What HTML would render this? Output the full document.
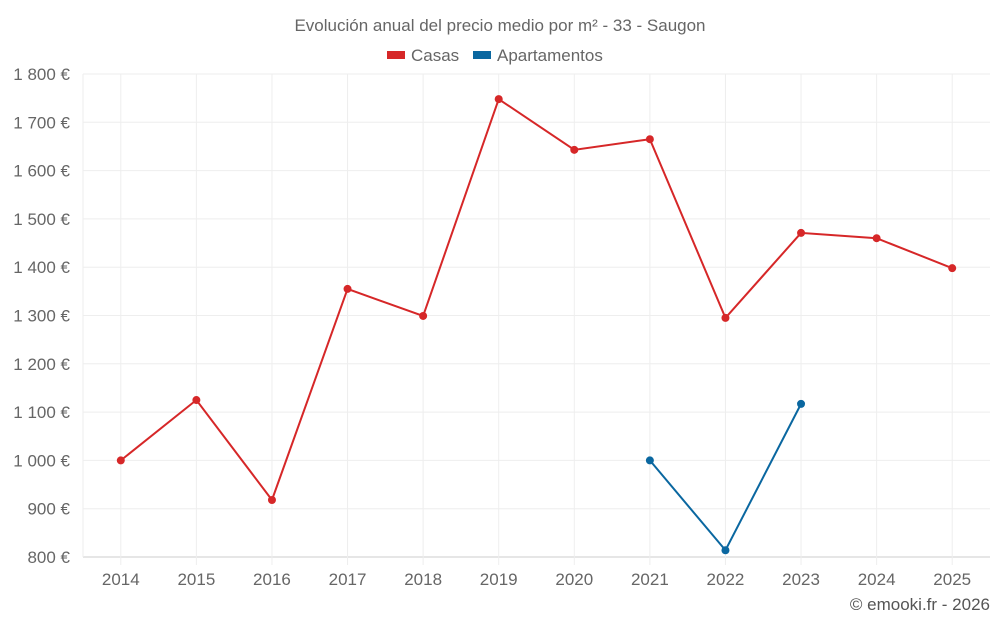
<!DOCTYPE html>
<html><head><meta charset="utf-8"><style>
body{margin:0;background:#fff;font-family:"Liberation Sans",sans-serif;}
svg text{font-family:"Liberation Sans",sans-serif;}
</style></head><body>
<svg id="chart" width="1000" height="625" xmlns="http://www.w3.org/2000/svg">
<text x="500" y="31" text-anchor="middle" font-size="17" fill="#666">Evolución anual del precio medio por m² - 33 - Saugon</text>
<g><rect x="387" y="51" width="18" height="8" fill="#d62728"/><text x="411" y="61" font-size="17" fill="#666">Casas</text></g>
<g><rect x="473" y="51" width="18" height="8" fill="#0a67a0"/><text x="497" y="61" font-size="17" fill="#666">Apartamentos</text></g>
<g id="grid"></g><g id="axes"></g><g id="series"></g>
<text x="990" y="610" text-anchor="end" font-size="17" fill="#555">© emooki.fr - 2026</text>
</svg>
<script>
const years=[2014,2015,2016,2017,2018,2019,2020,2021,2022,2023,2024,2025];
const casas=[1000,1125,918,1355,1299,1748,1643,1665,1295,1471,1460,1398];
const apartamentos=[null,null,null,null,null,null,null,1000,814,1117,null,null];
const yTicks=[800,900,1000,1100,1200,1300,1400,1500,1600,1700,1800];
const L=83,R=990,T=74,B=557,yMin=800,yMax=1800;
const bw=(R-L)/years.length;
const x=i=>L+bw*(i+0.5);
const y=v=>B-(v-yMin)/(yMax-yMin)*(B-T);
const NS="http://www.w3.org/2000/svg";
function mk(tag,parent,attrs){const e=document.createElementNS(NS,tag);for(const k in attrs)e.setAttribute(k,attrs[k]);parent.appendChild(e);return e;}
const grid=document.getElementById('grid'),axes=document.getElementById('axes'),ser=document.getElementById('series');
yTicks.forEach(t=>{
 const l=mk('line',grid,{x1:L,x2:R,y1:y(t),y2:y(t),stroke:t===yMin?'#ccc':'#eee'});
 
 
 const tx=mk('text',axes,{x:70,y:y(t)+6,'text-anchor':'end','font-size':17,fill:'#666'});
 tx.textContent=(t>=1000?Math.floor(t/1000)+' '+String(t%1000).padStart(3,'0'):t)+' €';
 
 
});
const lb=mk('line',grid,{x1:L,x2:L,y1:T,y2:B,stroke:'#eee'});


years.forEach((yr,i)=>{
 const l=mk('line',grid,{x1:x(i),x2:x(i),y1:T,y2:565,stroke:'#eee'});
 
 
 const tx=mk('text',axes,{x:x(i),y:585,'text-anchor':'middle','font-size':17,fill:'#666'});
 tx.textContent=yr;
 
 
});
function draw(vals,color,name){
 let d='',pen=false;
 vals.forEach((v,i)=>{if(v==null){pen=false;return;}d+=(pen?'L':'M')+x(i)+' '+y(v)+' ';pen=true;});
 const p=mk('path',ser,{d:d,fill:'none',stroke:color,'stroke-width':2});
 
 
 vals.forEach((v,i)=>{if(v==null)return;
  const c=mk('circle',ser,{cx:x(i),cy:y(v),r:4,fill:color});
  
  
 });
}
draw(casas,'#d62728','casas');
draw(apartamentos,'#0a67a0','apartamentos');
</script>
</body></html>
